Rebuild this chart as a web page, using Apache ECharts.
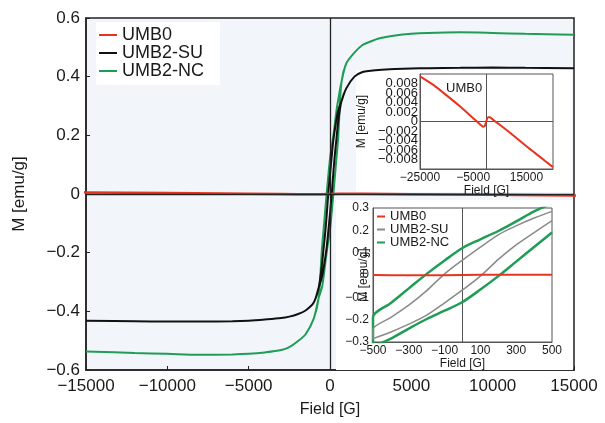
<!DOCTYPE html>
<html><head><meta charset="utf-8">
<script src="https://cdn.jsdelivr.net/npm/echarts@6/dist/echarts.min.js"></script>
<style>html,body{margin:0;padding:0;background:#fff}#c{width:605px;height:423px}</style>
</head><body><div id="c"></div>
<script>
// ---- data ----
const seriesNames = ['UMB0', 'UMB2-SU', 'UMB2-NC'];
// main plot, high-field parts (shared by both branches)
const mainFieldNeg = [-15000,-12000,-10000,-8000,-6000,-5000,-4000,-3000,-2500,-2000,-1500,-1000,-700];
const mainFieldPos = [700,1000,1500,2000,2500,3000,4000,5000,6000,8000,10000,12000,15000];
const suNeg = [-0.432,-0.434,-0.435,-0.435,-0.434,-0.432,-0.428,-0.423,-0.418,-0.41,-0.397,-0.37,-0.32];
const suPos = [0.315,0.36,0.4,0.416,0.42,0.423,0.426,0.428,0.429,0.43,0.431,0.43,0.429];
const ncNeg = [-0.537,-0.542,-0.545,-0.548,-0.547,-0.545,-0.54,-0.532,-0.522,-0.503,-0.478,-0.425,-0.355];
const ncPos = [0.38,0.445,0.482,0.508,0.52,0.53,0.54,0.546,0.549,0.551,0.549,0.546,0.543];
// low-field hysteresis loops
const loopField = [-500,-400,-300,-200,-100,0,100,200,300,400,500];
const suDesc = [-0.244,-0.19,-0.135,-0.07,0.005,0.067,0.125,0.18,0.22,0.255,0.285];
const suAsc  = [-0.285,-0.255,-0.22,-0.18,-0.125,-0.067,-0.005,0.07,0.135,0.19,0.244];
const ncDesc = [-0.19,-0.125,-0.06,0.005,0.065,0.121,0.16,0.197,0.24,0.285,0.32];
const ncAsc  = [-0.32,-0.285,-0.24,-0.197,-0.16,-0.121,-0.065,-0.005,0.06,0.125,0.19];
const umb0Low = [-0.0005,-0.0008,-0.001,-0.0011,-0.0008,0.0003,0.0009,0.001,0.0009,0.0007,0.0006];
// UMB0 wide-field curve
const umb0Field = [-25000,-20000,-15000,-10000,-5000,-3000,-2000,-1200,-600,0,600,1200,2000,3500,5000,10000,15000,20000,25000];
const umb0M = [0.0095,0.0077,0.0055,0.0032,0.0007,-0.0003,-0.0008,-0.0011,-0.0009,0.0002,0.0009,0.0009,0.0006,-0.0001,-0.0007,-0.0029,-0.0052,-0.0074,-0.0096];
// tick settings
const mainXTicks = {min:-15000, max:15000, interval:5000};
const mainYTicks = {min:-0.6, max:0.6, interval:0.2};

// ---- helpers ----
const pairs = (xs, ys) => xs.map((x, i) => [x, ys[i]]);
function loop(neg, pos, desc, asc) {
  const d = pairs(mainFieldPos, pos).reverse()
    .concat(pairs(loopField, desc).reverse())
    .concat(pairs(mainFieldNeg, neg).reverse());
  const a = pairs(mainFieldNeg, neg)
    .concat(pairs(loopField, asc))
    .concat(pairs(mainFieldPos, pos));
  return d.concat(a);
}
function loopLow(desc, asc) {
  return pairs(loopField, desc).reverse().concat(pairs(loopField, asc));
}
const minus = v => String(v).replace('-', '\u2212');

const FONT = 'Liberation Sans, Arial, sans-serif';
const RED = '#e8341f', BLACK = '#111111', GREEN = '#1f9d55', GRAY = '#8a8a8a';
const TXT = '#1a1a1a';

const chart = echarts.init(document.getElementById('c'), null, {renderer: 'canvas'});
const option = {
  animation: false,
  textStyle: {fontFamily: FONT},
  graphic: [
    {type: 'rect', z: 1, shape: {x: 356, y: 70, width: 216, height: 122}, style: {fill: '#ffffff'}},
    {type: 'rect', z: 1, shape: {x: 336, y: 200, width: 237, height: 170}, style: {fill: '#ffffff'}}
  ],
  title: {
    text: 'UMB0', left: 441, top: 77, z: 6,
    textStyle: {fontSize: 13, fontWeight: 'normal', color: TXT, fontFamily: FONT}
  },
  legend: [
    {
      data: seriesNames, orient: 'vertical', left: 96, top: 22,
      padding: [4, 16, 5, 3], backgroundColor: '#ffffff',
      icon: 'rect', itemWidth: 18, itemHeight: 2, itemGap: 0,
      textStyle: {fontSize: 18, color: TXT, fontFamily: FONT, lineHeight: 18},
      selectedMode: false
    },
    {
      data: [
        {name: 'UMB0', itemStyle: {color: RED}},
        {name: 'UMB2-SU', itemStyle: {color: GRAY}},
        {name: 'UMB2-NC', itemStyle: {color: GREEN}}
      ],
      orient: 'vertical', left: 377, top: 210, z: 6,
      icon: 'rect', itemWidth: 8, itemHeight: 2, itemGap: 0,
      textStyle: {fontSize: 13, color: TXT, fontFamily: FONT, lineHeight: 12},
      padding: 0, selectedMode: false
    }
  ],
  grid: [
    {left: 86, top: 18, right: 31, bottom: 52, show: true, backgroundColor: '#f2f6fb', borderColor: '#222', borderWidth: 1.5},
    {left: 420, top: 74, width: 133, height: 95, show: true, backgroundColor: '#fff', borderColor: '#555', borderWidth: 1, z: 3},
    {left: 373, top: 208, width: 179, height: 134, show: true, backgroundColor: '#fff', borderColor: '#555', borderWidth: 1, z: 3}
  ],
  xAxis: [
    {
      gridIndex: 0, type: 'value', ...mainXTicks,
      name: 'Field [G]', nameLocation: 'middle', nameGap: 32,
      nameTextStyle: {fontSize: 16, color: TXT},
      axisLine: {onZero: false, lineStyle: {color: '#222', width: 1.5}},
      axisTick: {inside: true, length: 4, lineStyle: {color: '#222'}},
      axisLabel: {fontSize: 17, color: TXT, margin: 8, formatter: minus},
      splitLine: {show: false}
    },
    {
      gridIndex: 1, type: 'value', min: -25000, max: 25000, interval: 20000, z: 4,
      name: 'Field [G]', nameLocation: 'middle', nameGap: 12,
      nameTextStyle: {fontSize: 12, color: TXT},
      axisLine: {onZero: false, lineStyle: {color: '#555'}},
      axisTick: {show: false},
      axisLabel: {fontSize: 12, color: TXT, margin: 3, showMaxLabel: false, formatter: minus},
      splitLine: {show: false}
    },
    {
      gridIndex: 2, type: 'value', min: -500, max: 500, interval: 200, z: 4,
      name: 'Field [G]', nameLocation: 'middle', nameGap: 15,
      nameTextStyle: {fontSize: 12, color: TXT},
      axisLine: {onZero: false, lineStyle: {color: '#555'}},
      axisTick: {show: false},
      axisLabel: {fontSize: 12, color: TXT, margin: 3, formatter: minus},
      splitLine: {show: false}
    }
  ],
  yAxis: [
    {
      gridIndex: 0, type: 'value', ...mainYTicks,
      name: 'M [emu/g]', nameLocation: 'middle', nameGap: 58,
      nameTextStyle: {fontSize: 17, color: TXT},
      axisLine: {onZero: false, lineStyle: {color: '#222', width: 1.5}},
      axisTick: {inside: true, length: 4, lineStyle: {color: '#222'}},
      axisLabel: {fontSize: 17, color: TXT, margin: 6, formatter: v => minus(Math.round(v * 10) / 10)},
      splitLine: {show: false}
    },
    {
      gridIndex: 1, type: 'value', min: -0.01, max: 0.01, interval: 0.002, z: 4,
      name: 'M [emu/g]', nameLocation: 'middle', nameGap: 52, nameMoveOverlap: false,
      nameTextStyle: {fontSize: 12, color: TXT},
      axisLine: {onZero: false, lineStyle: {color: '#555'}},
      axisTick: {show: false},
      axisLabel: {fontSize: 13, color: TXT, margin: 2, showMinLabel: false, showMaxLabel: false,
        formatter: v => minus(Math.round(v * 1000) / 1000)},
      splitLine: {show: false}
    },
    {
      gridIndex: 2, type: 'value', min: -0.3, max: 0.3, interval: 0.1, z: 4,
      name: 'M [emu/g]', nameLocation: 'middle', nameGap: 3, nameMoveOverlap: false,
      nameTextStyle: {fontSize: 12, color: TXT},
      axisLine: {onZero: false, lineStyle: {color: '#555'}},
      axisTick: {show: false},
      axisLabel: {fontSize: 12, color: TXT, margin: 4, formatter: v => minus(Math.round(v * 10) / 10)},
      splitLine: {show: false}
    }
  ],
  series: [
    {
      name: 'UMB2-NC', type: 'line', xAxisIndex: 0, yAxisIndex: 0, showSymbol: false, smooth: 0.3,
      data: loop(ncNeg, ncPos, ncDesc, ncAsc), color: GREEN, lineStyle: {width: 2, color: GREEN}, z: 2
    },
    {
      name: 'UMB2-SU', type: 'line', xAxisIndex: 0, yAxisIndex: 0, showSymbol: false, smooth: 0.3,
      data: loop(suNeg, suPos, suDesc, suAsc), color: BLACK, lineStyle: {width: 2, color: BLACK}, z: 2,
      markLine: {
        silent: true, symbol: 'none', label: {show: false},
        lineStyle: {color: '#222', width: 1.3, type: 'solid'},
        data: [{xAxis: 0}, {yAxis: 0}]
      }
    },
    {
      name: 'UMB0', type: 'line', xAxisIndex: 0, yAxisIndex: 0, showSymbol: false,
      data: pairs(umb0Field, umb0M), color: RED, lineStyle: {width: 2.5, color: RED}, z: 3
    },
    {
      name: 'UMB0 inset', type: 'line', xAxisIndex: 1, yAxisIndex: 1, showSymbol: false, smooth: 0.3,
      data: pairs(umb0Field, umb0M), lineStyle: {width: 2, color: RED}, z: 5,
      markLine: {
        silent: true, symbol: 'none', label: {show: false},
        lineStyle: {color: '#555', width: 1, type: 'solid'},
        data: [{xAxis: 0}, {yAxis: 0}]
      }
    },
    {
      name: 'UMB2-NC', type: 'line', xAxisIndex: 2, yAxisIndex: 2, showSymbol: false, smooth: 0.3,
      data: loopLow(ncDesc, ncAsc), lineStyle: {width: 2.5, color: GREEN}, z: 5,
      markLine: {
        silent: true, symbol: 'none', label: {show: false},
        lineStyle: {color: '#555', width: 1, type: 'solid'},
        data: [{xAxis: 0}]
      }
    },
    {
      name: 'UMB2-SU', type: 'line', xAxisIndex: 2, yAxisIndex: 2, showSymbol: false, smooth: 0.3,
      data: loopLow(suDesc, suAsc), lineStyle: {width: 1.5, color: GRAY}, z: 5
    },
    {
      name: 'UMB0', type: 'line', xAxisIndex: 2, yAxisIndex: 2, showSymbol: false,
      data: pairs(loopField, umb0Low), lineStyle: {width: 2, color: RED}, z: 6
    }
  ]
};
chart.setOption(option);
</script></body></html>
